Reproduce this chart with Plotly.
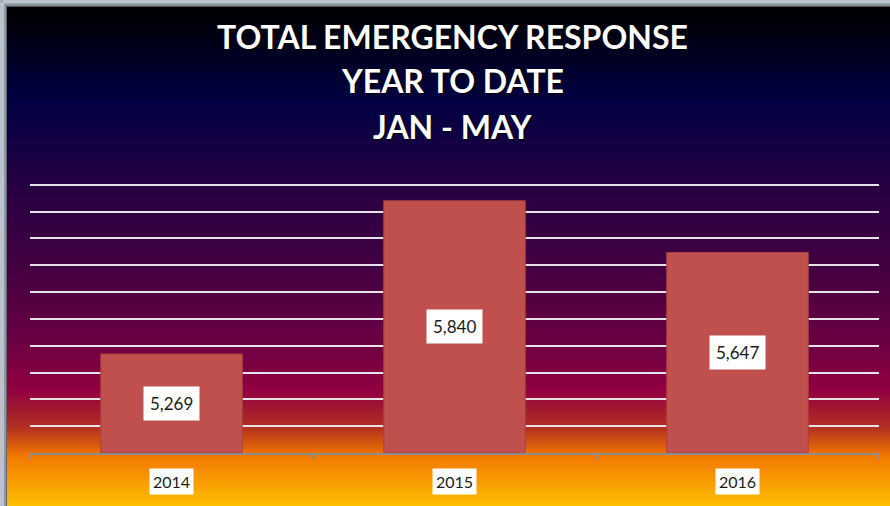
import plotly.graph_objects as go

years = ["2014", "2015", "2016"]
responses = [5269, 5840, 5647]
value_labels = ["5,269", "5,840", "5,647"]
title_lines = ["TOTAL EMERGENCY RESPONSE", "YEAR TO DATE", "JAN - MAY"]

W, H = 890, 506
Y_MIN, Y_MAX, Y_TOP = 4900, 5900, 5910
# plot area: x 30..879, axis at y=453, 5900 at y=185
L, R, B = 30, 11, 53
PX_PER_UNIT = (453 - 185) / (Y_MAX - Y_MIN)
PH = (Y_TOP - Y_MIN) * PX_PER_UNIT
T = H - B - PH
PW = W - L - R


def px_x(px):
    return (px - L) / PW


def px_y(py):
    return (H - B - py) / PH


# gradient stops: (pixel y, rgb)
stops = [
    (7, (0, 0, 0)),
    (100, (0, 0, 66)),
    (190, (40, 0, 66)),
    (270, (68, 0, 66)),
    (340, (105, 0, 66)),
    (390, (145, 0, 64)),
    (428, (180, 48, 32)),
    (456, (242, 120, 0)),
    (506, (255, 192, 0)),
]


def color_at(y):
    for (y0, c0), (y1, c1) in zip(stops[:-1], stops[1:]):
        if y0 <= y <= y1:
            t = (y - y0) / (y1 - y0)
            return "rgb(%d,%d,%d)" % tuple(round(a + (b - a) * t) for a, b in zip(c0, c1))
    return "rgb(%d,%d,%d)" % stops[-1][1]


shapes = []
step = 2
for y in range(7, H, step):
    shapes.append(dict(
        type="rect", xref="paper", yref="paper", layer="below",
        x0=px_x(7), x1=px_x(W + 4), y0=px_y(y + step + 0.5), y1=px_y(y),
        fillcolor=color_at(y + step / 2), line=dict(width=0),
    ))

# window frame (top and left strips)
frame = [(0, 4, "#BAC3CC"), (4, 6, "#8E98A2"), (6, 7, "#5E666E")]
for a, b, col in frame:
    shapes.append(dict(
        type="rect", xref="paper", yref="paper", layer="above",
        x0=px_x(b - 1), x1=px_x(W + 4), y0=px_y(b), y1=px_y(a),
        fillcolor=col, line=dict(width=0),
    ))
    shapes.append(dict(
        type="rect", xref="paper", yref="paper", layer="above",
        x0=px_x(a), x1=px_x(b), y0=px_y(H + 4), y1=px_y(b - 1),
        fillcolor=col, line=dict(width=0),
    ))

idx = list(range(len(years)))

fig = go.Figure()
fig.add_trace(go.Bar(
    x=idx, y=[v - Y_MIN for v in responses], base=Y_MIN,
    marker=dict(color="#C0504D", line=dict(color="#A8403D", width=1)),
    hoverinfo="skip",
))

annotations = []
for i, v, lab, yr in zip(idx, responses, value_labels, years):
    annotations.append(dict(
        x=i, y=(Y_MIN + v) / 2, xref="x", yref="y", text=lab, showarrow=False,
        font=dict(family="Lato", size=17, color="#1a1a1a"),
        bgcolor="white", borderpad=6, yanchor="middle",
    ))
    annotations.append(dict(
        x=i, y=0, xref="x", yref="paper", yshift=-28, text=yr, showarrow=False,
        font=dict(family="Lato", size=16, color="#1a1a1a"),
        bgcolor="white", borderpad=3, yanchor="middle",
    ))

title_y = [37, 81, 127]
for line, ty in zip(title_lines, title_y):
    annotations.append(dict(
        x=px_x(452), y=px_y(ty), xref="paper", yref="paper", text="<b>%s</b>" % line,
        showarrow=False, yanchor="middle", xanchor="center",
        font=dict(family="Lato", size=32, color="white", shadow="1px 1px 2px #000"),
    ))

# category boundary tick marks
for b in [-0.5, 0.5, 1.5, 2.5]:
    shapes.append(dict(
        type="line", xref="x", yref="paper", x0=b, x1=b, y0=0, y1=-6 / PH,
        line=dict(color="#8C8C8C", width=2),
    ))

fig.update_layout(
    width=W, height=H,
    margin=dict(l=L, r=R, t=T, b=B, autoexpand=False),
    paper_bgcolor="#A3ACB6",
    plot_bgcolor="rgba(0,0,0,0)",
    showlegend=False,
    bargap=0.5,
    shapes=shapes,
    annotations=annotations,
    xaxis=dict(
        range=[-0.5, 2.5], showline=True, linecolor="#8C8C8C", linewidth=2,
        ticks="", showticklabels=False, showgrid=False, zeroline=False,
        automargin=False,
    ),
    yaxis=dict(
        range=[Y_MIN, Y_TOP], tick0=0, dtick=100, showgrid=True, gridcolor="#E6E2EA",
        gridwidth=1.5, showticklabels=False, zeroline=False, showline=False,
        automargin=False,
    ),
)

fig.write_html(
    "out.html",
    config={"displayModeBar": False},
    post_script="document.body.style.margin='0';document.body.style.overflow='hidden';",
)
